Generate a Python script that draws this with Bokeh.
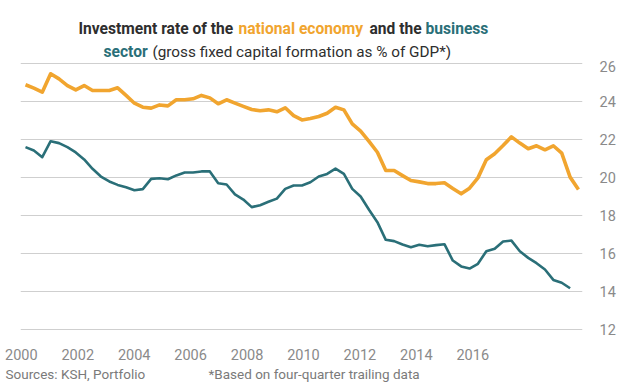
from bokeh.plotting import figure
from bokeh.layouts import column
from bokeh.models import Range1d, LinearAxis, FixedTicker, Label
from bokeh.embed import file_html
from bokeh.resources import INLINE

# Quarterly data, 2000Q1 onwards (four-quarter trailing, % of GDP)
national_economy = [24.88, 24.70, 24.49, 25.46, 25.19, 24.84, 24.61, 24.84, 24.58, 24.58,
                    24.58, 24.72, 24.32, 23.91, 23.70, 23.65, 23.82, 23.77, 24.09, 24.09,
                    24.14, 24.32, 24.19, 23.88, 24.09, 23.91, 23.74, 23.58, 23.51, 23.56,
                    23.46, 23.67, 23.26, 23.03, 23.10, 23.21, 23.38, 23.70, 23.56, 22.82,
                    22.44, 21.90, 21.33, 20.37, 20.37, 20.10, 19.84, 19.77, 19.68, 19.68,
                    19.72, 19.42, 19.14, 19.44, 19.98, 20.93, 21.25, 21.68, 22.14, 21.81,
                    21.51, 21.67, 21.46, 21.67, 21.28, 20.02, 19.37]
business_sector = [21.60, 21.42, 21.07, 21.91, 21.81, 21.60, 21.32, 20.95, 20.46, 20.05,
                   19.79, 19.61, 19.49, 19.33, 19.39, 19.93, 19.96, 19.91, 20.11, 20.26,
                   20.26, 20.32, 20.32, 19.70, 19.63, 19.11, 18.84, 18.44, 18.54, 18.72,
                   18.89, 19.40, 19.58, 19.58, 19.75, 20.05, 20.19, 20.47, 20.19, 19.40,
                   19.00, 18.30, 17.65, 16.72, 16.65, 16.47, 16.33, 16.46, 16.38, 16.44,
                   16.49, 15.63, 15.32, 15.21, 15.46, 16.12, 16.25, 16.63, 16.68, 16.12,
                   15.77, 15.49, 15.16, 14.61, 14.46, 14.17]
quarter_national = list(range(len(national_economy)))
quarter_business = list(range(len(business_sector)))
year_labels = [2000, 2002, 2004, 2006, 2008, 2010, 2012, 2014, 2016]
y_ticks = [12, 14, 16, 18, 20, 22, 24, 26]

ORANGE = "#F1A52F"
TEAL = "#2A6F78"
DARK = "#2E2E2E"
GRAY = "#8A8A8A"
FOOT = "#7A7A7A"
FONT = "Roboto"

W = 621
TITLE_H, MAIN_H, FOOT_H = 60, 303, 28


def text_panel(height):
    f = figure(width=W, height=height, output_backend="svg", toolbar_location=None,
               title=None, frame_align=False,
               x_range=Range1d(0, W), y_range=Range1d(0, height),
               x_axis_location=None, y_axis_location=None,
               min_border=0, min_border_left=0, min_border_right=0,
               min_border_top=0, min_border_bottom=0)
    f.outline_line_color = None
    f.xgrid.visible = False
    f.ygrid.visible = False
    return f


def add_text(fig, fig_top, txt, px, py, color, size, bold=False):
    # px, py: page position of the text's left end / baseline
    lab = Label(x=px, y=fig_top + fig.height - py, x_units="screen", y_units="screen",
                text=txt, text_color=color, text_font=FONT, text_font_size=size,
                text_font_style="bold" if bold else "normal",
                text_align="left", text_baseline="alphabetic")
    fig.add_layout(lab)


# ---- title ----
title = text_panel(TITLE_H)
TS = "15.6px"
add_text(title, 0, "Investment rate of the", 78, 28, DARK, TS, True)
add_text(title, 0, "national economy", 238, 28, ORANGE, TS, True)
add_text(title, 0, "and the", 369, 28, DARK, TS, True)
add_text(title, 0, "business", 425, 28, TEAL, TS, True)
add_text(title, 0, "sector", 103, 51, TEAL, TS, True)
add_text(title, 0, "(gross fixed capital formation as % of GDP*)", 152, 51, DARK, "15.3px")

# ---- main chart ----
p = figure(width=W, height=MAIN_H, output_backend="svg", toolbar_location=None,
           title=None, frame_align=False,
           x_range=Range1d(-0.597, 66.48), y_range=Range1d(11.895, 26.105),
           x_axis_location=None, y_axis_location="right",
           min_border_left=20, min_border_right=39, min_border_top=1, min_border_bottom=32)
p.outline_line_color = None

yax = p.yaxis[0]
yax.ticker = FixedTicker(ticks=y_ticks)
yax.axis_line_color = None
yax.major_tick_line_color = None
yax.minor_tick_line_color = None
yax.major_label_standoff = 11
yax.major_label_text_font = FONT
yax.major_label_text_font_size = "14.5px"
yax.major_label_text_color = GRAY

p.ygrid.ticker = FixedTicker(ticks=y_ticks)
p.ygrid.grid_line_color = "#CFCFCF"
p.ygrid.grid_line_width = 1
for g in p.xgrid:
    g.visible = False

p.extra_x_ranges = {"yr": Range1d(1999.97, 2019.89)}
xax = LinearAxis(x_range_name="yr", ticker=FixedTicker(ticks=year_labels))
xax.axis_line_color = None
xax.major_tick_line_color = None
xax.minor_tick_line_color = None
xax.major_label_standoff = 11
xax.major_label_text_font = FONT
xax.major_label_text_font_size = "14.5px"
xax.major_label_text_color = GRAY
p.add_layout(xax, "below")

p.line(quarter_business, business_sector, line_color=TEAL, line_width=2.6, line_join="round")
p.line(quarter_national, national_economy, line_color=ORANGE, line_width=3.6, line_join="round")

# ---- footer ----
footer = text_panel(FOOT_H)
ftop = TITLE_H + MAIN_H
add_text(footer, ftop, "Sources: KSH, Portfolio", 5, 373, FOOT, "13.5px")
add_text(footer, ftop, "*Based on four-quarter trailing data", 208, 373, FOOT, "13.5px")

layout = column(title, p, footer, spacing=0)
open("out.html", "w").write(file_html(layout, INLINE))
